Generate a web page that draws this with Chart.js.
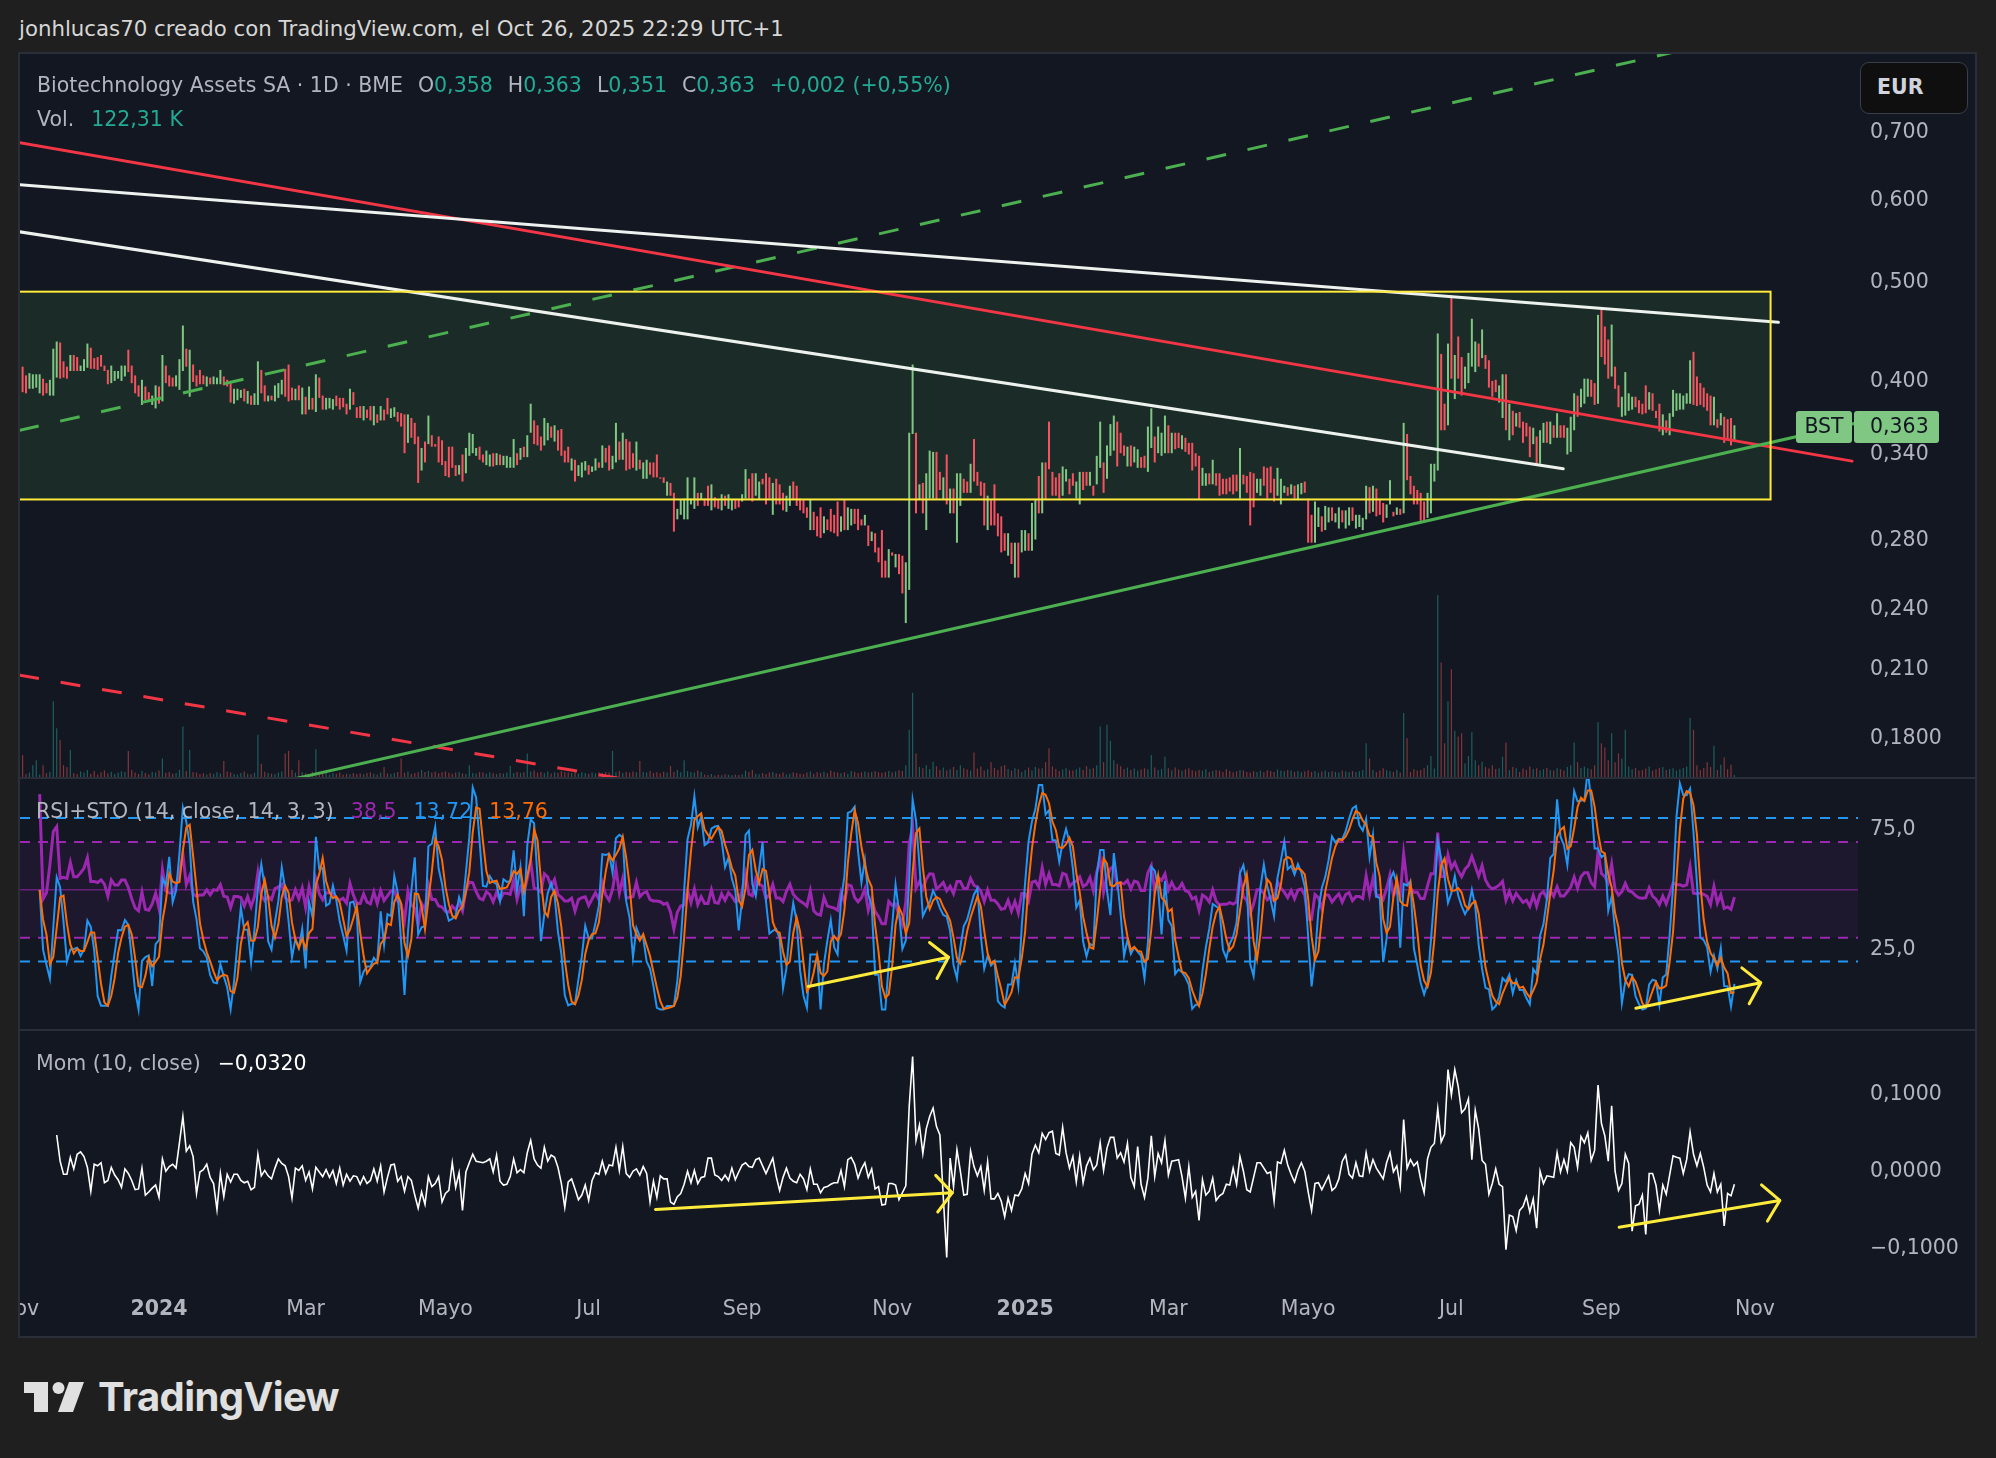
<!DOCTYPE html>
<html lang="es">
<head>
<meta charset="utf-8">
<title>Biotechnology Assets SA · 1D · BME</title>
<script src="https://cdn.jsdelivr.net/npm/chart.js@4.4.1/dist/chart.umd.min.js"></script>
<style>
html, body { margin: 0; padding: 0; }
body { width: 1996px; height: 1458px; background: #1f1f1f; position: relative; overflow: hidden;
       font-family: 'DejaVu Sans', sans-serif; font-size: 20.5px; }
#panel { position: absolute; left: 18px; top: 52px; width: 1959px; height: 1286px; box-sizing: border-box;
         border: 2px solid #2a2e39; background: #131722; }
canvas { position: absolute; left: 20px; }
.sep { position: absolute; left: 20px; width: 1955px; height: 2px; background: #2a2e39; }
.row { position: absolute; display: flex; white-space: pre; line-height: 24px; color: #b2b5be; }
.row .g { margin-left: 15px; }
.row .m { margin-left: 17px; }
.teal { color: #22ab94; }
#hdr { position: absolute; left: 19px; top: 17px; line-height: 24px; color: #d6d6d6; white-space: pre; font-size: 21.3px; }
#cur { position: absolute; left: 1860px; top: 62px; width: 108px; height: 52px; box-sizing: border-box;
       border: 1.5px solid #3a3e48; border-radius: 9px; background: #0f0f0f; color: #d1d4dc;
       font-weight: bold; line-height: 49px; padding-left: 16px; }
#brand { position: absolute; left: 98px; top: 1374px; font-family: Inter, sans-serif; font-weight: 700;
         font-size: 40px; line-height: 46px; color: #e0e0e0; letter-spacing: -0.6px; }
</style>
</head>
<body>
<div id="hdr">jonhlucas70 creado con TradingView.com, el Oct 26, 2025 22:29 UTC+1</div>
<div id="panel"></div>
<canvas id="priceCv" width="1955" height="723" style="top:54px"></canvas>
<div class="sep" style="top:777px"></div>
<canvas id="rsiCv" width="1955" height="250" style="top:779px"></canvas>
<div class="sep" style="top:1029px"></div>
<canvas id="momCv" width="1955" height="305" style="top:1031px"></canvas>

<div class="row" style="left:37px;top:73px"><span>Biotechnology Assets SA · 1D · BME</span><span class="g">O</span><span class="teal">0,358</span><span class="g">H</span><span class="teal">0,363</span><span class="g">L</span><span class="teal">0,351</span><span class="g">C</span><span class="teal">0,363</span><span class="g teal">+0,002 (+0,55%)</span></div>
<div class="row" style="left:37px;top:107px"><span>Vol.</span><span class="m teal">122,31 K</span></div>
<div id="cur">EUR</div>
<div class="row" style="left:36px;top:799px"><span>RSI+STO (14, close, 14, 3, 3)</span><span class="m" style="color:#9c27b0">38,5</span><span class="m" style="color:#2196f3">13,72</span><span class="m" style="color:#ff6d00">13,76</span></div>
<div class="row" style="left:36px;top:1051px"><span>Mom (10, close)</span><span class="m" style="color:#ffffff">−0,0320</span></div>

<svg style="position:absolute;left:0;top:1370px" width="100" height="50">
  <path d="M24 12 H48 V42 H34 V23 H24 Z" fill="#e0e0e0"/>
  <circle cx="58.5" cy="18" r="6" fill="#e0e0e0"/>
  <polygon points="69,12 84,12 73,42 58,42" fill="#e0e0e0"/>
</svg>
<div id="brand">TradingView</div>

<script>
// Biotechnology Assets SA (BME), daily bars, Nov 2 2023 - Oct 24 2025

// ---------- data ----------
const startDate = '2023-11-01';   // first session of the time axis, the first candle is the next session
const holidays = ['2023-12-25', '2023-12-26', '2024-01-01', '2024-03-29', '2024-04-01', '2024-05-01',
  '2024-12-24', '2024-12-25', '2024-12-26', '2024-12-31', '2025-01-01', '2025-04-18', '2025-04-21', '2025-05-01'];
const monthNames = ['Ene', 'Feb', 'Mar', 'Abr', 'Mayo', 'Jun', 'Jul', 'Ago', 'Sep', 'Oct', 'Nov', 'Dic'];
const labelMonths = [10, 0, 2, 4, 6, 8];

// daily high / low in thousandths of a euro
const highs = [
  414,406,408,407,407,407,403,399,402,431, 438,437,419,414,425,425,423,415,421,436,
  432,422,423,425,415,411,415,410,410,415, 415,430,415,406,397,402,396,391,388,397,
  396,425,415,406,404,406,421,454,431,430, 416,406,411,406,405,404,405,404,411,405,
  402,399,394,394,393,394,392,388,390,419, 411,397,388,388,397,399,402,412,416,395,
  394,397,395,387,396,386,407,404,388,386, 386,385,388,386,386,381,394,391,378,379,
  379,376,379,379,372,379,376,386,377,378, 374,373,372,372,369,365,354,345,350,371,
  355,348,354,351,335,346,346,332,332,340, 345,357,356,345,346,340,343,340,341,341,
  340,339,339,338,352,341,345,346,355,381, 367,363,354,369,365,362,363,359,360,343,
  346,337,336,332,334,335,332,331,337,334, 347,345,347,339,365,350,357,352,350,341,
  350,336,334,336,334,334,340,323,323,320, 319,312,301,307,308,323,308,323,312,312,
  308,317,318,309,307,311,310,311,307,307, 307,311,329,322,326,326,320,322,326,323,
  319,322,318,312,310,317,320,317,308,307, 302,307,299,296,302,296,294,301,297,306,
  296,307,302,301,301,301,294,297,290,286, 285,276,287,268,275,273,272,272,271,267,
  357,416,357,318,319,326,343,342,342,327, 323,340,315,315,326,326,322,320,333,352,
  327,320,319,310,307,318,298,296,285,285, 279,279,279,287,287,285,305,307,324,334,
  334,366,327,323,326,331,329,322,326,320, 327,327,327,327,317,339,366,334,347,364,
  371,366,357,347,346,347,346,344,338,339, 362,377,354,362,357,371,363,357,357,357,
  355,353,349,349,341,339,330,326,326,336, 326,326,322,322,323,325,325,345,325,324,
  327,326,322,322,331,330,331,322,330,322, 317,316,318,317,318,
  319,320,308,297,306,302,296,303,302,302, 298,302,300,300,302,302,297,297,295,317,
  316,317,315,307,305,304,321,299,302,301, 365,356,324,317,314,312,306,312,333,333,
  446,426,381,436,486,425,443,423,414,427, 461,438,436,450,425,420,401,402,397,407,
  407,381,375,373,374,366,365,362,361,354, 359,365,366,366,363,373,363,363,361,370,
  390,388,394,403,403,402,399,465,472,453, 440,455,414,397,387,409,390,387,387,384,
  381,397,391,390,375,381,372,367,373,393, 390,390,388,390,420,428,405,399,395,390,
  388,387,368,373,370,368,369,363
];
const lows = [
  391,390,394,394,395,390,388,390,388,388, 404,403,404,403,410,410,410,410,410,413,
  412,412,411,414,410,398,399,401,403,401, 405,409,399,390,387,380,384,383,380,377,
  381,383,399,396,396,396,393,410,414,387, 400,396,398,398,396,398,398,398,398,397,
  396,382,381,384,386,383,381,380,380,380, 390,383,383,384,383,386,389,387,383,384,
  384,384,372,372,376,376,374,386,376,376, 377,376,379,376,378,372,376,380,369,369,
  367,369,367,363,365,367,367,372,369,370, 366,362,341,349,353,348,319,328,334,348,
  346,346,334,332,324,323,330,324,325,320, 326,339,341,339,336,334,332,331,331,332,
  332,332,330,330,330,332,336,338,338,357, 348,347,343,347,351,353,350,343,339,334,
  334,328,320,324,323,328,325,327,328,330, 330,334,328,329,334,336,336,328,329,330,
  328,329,322,322,325,323,323,322,319,310, 310,286,294,297,294,294,304,301,303,307,
  303,303,300,302,301,300,303,301,300,301, 302,306,308,308,306,310,307,318,304,308,
  297,304,304,300,299,303,307,303,300,298, 295,287,287,283,282,285,287,286,285,283,
  286,287,287,290,291,287,290,290,277,280, 273,267,258,258,258,271,264,260,249,233,
  251,356,298,307,298,287,308,308,307,314, 307,304,298,298,279,303,312,312,312,320,
  317,310,290,287,290,290,283,273,274,271, 266,258,258,273,274,274,274,281,298,298,
  307,329,310,310,308,310,320,311,317,308, 304,314,317,317,310,318,330,312,322,339,
  343,331,341,339,331,331,334,330,330,330, 327,345,334,341,339,341,341,341,344,345,
  344,342,340,328,331,307,317,317,318,318, 317,310,311,311,313,311,313,308,318,312,
  290,302,312,310,317,308,312,306,310,304, 312,310,311,308,307,
  311,312,279,279,279,289,286,287,292,293, 292,288,292,288,290,293,288,289,287,294,
  298,299,296,297,292,295,304,296,297,297, 298,321,311,304,304,293,293,295,298,320,
  328,359,359,363,403,385,403,388,394,399, 414,409,414,422,412,395,387,391,382,369,
  359,351,355,362,361,349,354,338,348,333, 333,349,349,348,353,353,353,353,340,342,
  359,370,378,381,387,387,380,381,423,416, 403,405,394,378,370,371,375,376,378,373,
  372,373,376,375,369,358,355,357,355,370, 375,376,376,381,381,380,379,380,378,375,
  363,363,361,363,349,351,347,351
];
// candle colour (1 = green). At this zoom a candle is ~2px wide, so its body runs from end to end:
// a green candle opens at its low and closes at its high, a red one the other way round.
const upBar = [
  0,0,1,1,1,1,0,0,1,1, 1,0,0,0,1,0,0,1,1,1, 0,0,0,0,0,0,1,1,1,1, 1,0,0,0,0,1,0,0,1,1,
  0,1,0,0,0,1,1,1,0,1, 0,0,0,0,1,0,1,1,1,0, 0,0,1,1,1,0,1,0,1,1, 0,0,1,0,1,1,1,0,0,0,
  1,0,1,0,1,0,1,0,0,1, 1,1,0,0,0,0,1,0,0,0, 1,0,0,1,0,1,0,0,1,1, 0,0,0,1,0,0,0,1,0,1,
  0,0,0,0,0,0,0,0,1,0, 1,1,1,1,0,0,1,1,0,1, 0,1,1,1,1,0,1,0,1,1, 0,0,0,1,1,0,1,0,0,0,
  0,1,0,1,1,1,0,1,1,0, 1,0,0,1,1,0,1,0,0,0, 1,0,1,1,0,0,0,0,0,1, 0,0,1,1,1,1,1,1,0,1,
  0,0,1,0,0,1,0,1,1,0, 0,1,1,0,0,1,1,0,0,0, 1,0,0,0,1,1,0,0,0,0, 0,1,0,0,0,1,0,0,0,0,
  1,0,1,1,0,0,0,1,0,1, 0,0,0,0,1,0,1,0,0,1, 1,1,0,1,0,1,1,1,0,0, 1,0,1,0,1,1,0,0,1,0,
  0,0,0,1,0,0,0,0,0,1, 0,1,0,1,1,0,1,1,0,1, 0,0,0,0,0,1,1,0,0,1, 1,0,0,1,0,1,1,0,1,1,
  1,0,0,0,1,0,1,1,0,0, 1,1,0,1,1,1,0,1,0,0, 1,0,0,0,0,0,1,1,0,1, 0,0,0,0,0,0,0,1,0,0,
  0,0,1,1,0,0,0,0,1,1, 1,0,1,0,1,
  1,0,0,0,1,1,0,1,1,0, 1,1,0,1,1,0,1,1,1,1, 0,1,0,0,0,1,1,0,1,0, 1,0,0,0,0,0,0,1,1,1,
  1,0,0,1,0,1,0,0,1,1, 1,1,0,1,0,0,0,0,1,1, 0,1,0,1,0,0,0,0,1,0, 1,1,0,1,0,1,0,0,1,1,
  1,0,1,1,1,0,0,1,0,0, 0,1,0,0,1,1,1,1,0,0, 0,0,1,0,0,0,1,0,1,1, 1,1,1,1,1,0,0,0,0,0,
  0,1,0,1,0,0,0,1
];
// volume, thousands of shares
const volumeK = [
  1300,180,260,700,1000,150,700,220,310,4500, 2900,2200,700,600,1600,240,180,330,260,410,
  200,350,150,280,390,220,310,180,260,340, 290,1550,420,260,180,350,230,160,300,270,
  380,1100,250,300,190,240,420,3000,350,1600, 300,260,180,220,150,240,190,280,210,950,
  330,260,180,150,240,320,200,170,260,2500, 780,310,240,200,180,260,330,1400,1550,420,
  260,1000,300,220,180,310,1650,240,200,280, 150,230,190,260,140,200,170,240,180,210,
  160,230,280,190,150,260,600,210,180,240, 300,1100,260,320,200,240,280,420,300,350,
  260,310,220,280,330,250,190,260,300,220, 180,700,240,210,300,260,190,280,220,170,
  240,200,260,650,230,300,250,280,1400,320, 380,260,300,240,330,210,280,250,350,300,
  260,240,310,200,280,230,190,260,220,280, 240,300,260,1550,280,350,240,300,260,320,
  280,950,300,260,350,240,280,220,310,260, 650,300,420,280,1000,350,300,260,380,300,
  150,120,180,90,140,110,160,130,100,150, 120,170,380,300,420,200,160,240,180,260,
  300,220,180,260,150,200,280,240,200,170, 260,330,200,280,240,310,220,380,300,260,
  220,280,200,350,300,240,280,330,260,300, 340,280,250,300,360,280,330,400,350,700,
  2800,5000,1400,600,520,700,480,900,640,420, 560,380,460,600,420,700,520,440,380,1450,
  500,620,380,460,880,540,420,640,700,480, 380,520,460,300,420,560,380,600,500,520,
  880,1700,620,480,360,440,520,400,380,460, 560,420,640,480,520,700,3000,880,3100,2150,
  1000,780,640,480,560,420,500,380,440,520, 460,1300,560,420,480,1200,520,400,560,440,
  380,460,520,400,340,420,380,460,300,360, 420,380,300,460,360,280,340,420,380,300,
  260,340,300,380,280,400,360,300,440,380, 340,420,380,300,360,280,320,400,300,360,
  260,320,380,280,340,300,260,380,320,280, 360,300,340,420,2000,1100,420,300,380,520,
  400,340,300,420,260,3800,2300,300,460,380, 420,520,700,1250,500,10800,6800,2000,4500,6400,
  2750,2400,2600,800,1250,2650,1000,700,900,600, 500,700,480,520,1200,2050,400,600,520,300,
  500,420,620,480,520,380,460,540,420,380, 520,460,380,600,700,2050,880,540,620,520,
  460,700,3250,2000,1750,1000,2600,880,1400,1100, 2800,620,460,540,380,420,500,620,380,460,
  540,600,420,480,520,380,460,540,620,3500, 2800,700,420,540,880,600,1850,420,720,1150,
  460,720,122.31
];

const priceTicks = [0.18, 0.21, 0.24, 0.28, 0.34, 0.40, 0.50, 0.60, 0.70];
const priceTickLabels = ['0,1800', '0,210', '0,240', '0,280', '0,340', '0,400', '0,500', '0,600', '0,700'];
const rsiTicks = [25, 75];
const rsiTickLabels = ['25,0', '75,0'];
const momTicks = [-0.1, 0, 0.1];
const momTickLabels = ['\u22120,1000', '0,0000', '0,1000'];
const rsiBand = [30, 70];
const rsiMid = 50;
const stochBand = [20, 80];

// drawings on the chart, anchors as [session index, value]
const rangeBox = [[-30, 0.3074], [513.6, 0.4898]];
const redTrend = [[0, 0.684], [537.5, 0.335]];
const redDashed = [[0, 0.2073], [200, 0.1594]];
const greenDashed = [[0, 0.3588], [500, 0.860]];
const greenTrend = [[60, 0.1585], [540, 0.3657]];
const whiteUpper = [[0, 0.6226], [515.9, 0.4573]];
const whiteLower = [[0, 0.5602], [452.8, 0.3293]];
const rsiArrows = [[[231.4, 9.6], [272.5, 21.8]], [[474.1, 0.5], [510.7, 11.2]]];
const momArrows = [[[186.6, -0.0496], [273.6, -0.0281]], [[469.2, -0.0727], [516.3, -0.038]]];

// ---------- layout ----------
const X_MIN = 0.235, X_MAX = 539.24, AXIS_W = 117;
const FONT = 'DejaVu Sans';
const FONT_SIZE = 20.5;
const upCol = '#81c784', downCol = '#f7525f';

// trading sessions on the time axis
const sessions = [];
for (let d = new Date(startDate + 'T12:00:00Z'); sessions.length < 560; d.setUTCDate(d.getUTCDate() + 1)) {
  const s = d.toISOString().slice(0, 10), wd = d.getUTCDay();
  if (wd > 0 && wd < 6 && !holidays.includes(s)) sessions.push(s);
}
const timeTicks = [];
sessions.forEach((s, i) => {
  const m = +s.slice(5, 7) - 1;
  const newMonth = i === 0 || s.slice(5, 7) !== sessions[i - 1].slice(5, 7);
  if (newMonth && labelMonths.includes(m) && i <= X_MAX) {
    timeTicks.push({ i, label: m === 0 ? s.slice(0, 4) : monthNames[m], year: m === 0 });
  }
});

// ---------- indicators (standard formulas on the closes) ----------
const closes = highs.map((h, k) => (upBar[k] ? h : lows[k]) / 1000);

function rsiOf(src, len, warm) {
  const out = [null];
  let avgUp = 0, avgDn = 0;
  for (let t = 1; t < src.length; t++) {
    const ch = src[t] - src[t - 1];
    const n = Math.min(t, len);
    avgUp = (avgUp * (n - 1) + Math.max(ch, 0)) / n;
    avgDn = (avgDn * (n - 1) + Math.max(-ch, 0)) / n;
    out.push(t < warm ? null : (avgDn === 0 ? 100 : 100 - 100 / (1 + avgUp / avgDn)));
  }
  return out;
}
function stochOf(src, len) {
  return src.map((v, t) => {
    if (v === null) return null;
    const win = src.slice(Math.max(0, t - len + 1), t + 1).filter(x => x !== null);
    const lo = Math.min(...win), hi = Math.max(...win);
    return hi === lo ? 50 : (v - lo) / (hi - lo) * 100;
  });
}
function smaOf(src, len) {
  return src.map((v, t) => {
    if (v === null) return null;
    const win = src.slice(Math.max(0, t - len + 1), t + 1).filter(x => x !== null);
    return win.reduce((a, b) => a + b, 0) / win.length;
  });
}
const rsi = rsiOf(closes, 14, 5);
const stochK = smaOf(stochOf(rsi, 14), 3);
const stochD = smaOf(stochK, 3);
const mom = closes.map((c, t) => (t >= 10 ? c - closes[t - 10] : null));

// ---------- helpers ----------
const pts = arr => arr.map((v, k) => ({ x: k + 1, y: v }));
const toPx = (chart, p) => [chart.scales.x.getPixelForValue(p[0]), chart.scales.y.getPixelForValue(p[1])];

function clipArea(ctx, a) {
  ctx.beginPath();
  ctx.rect(a.left, a.top, a.right - a.left, a.bottom - a.top);
  ctx.clip();
}
function line(ctx, p, q, color, width, dash, cap) {
  ctx.save();
  ctx.strokeStyle = color;
  ctx.lineWidth = width;
  ctx.setLineDash(dash);
  ctx.lineCap = cap || 'round';
  ctx.beginPath();
  ctx.moveTo(p[0], p[1]);
  ctx.lineTo(q[0], q[1]);
  ctx.stroke();
  ctx.restore();
}
function arrow(ctx, p, q) {
  line(ctx, p, q, '#ffeb3b', 3, []);
  const ang = Math.atan2(q[1] - p[1], q[0] - p[0]), len = 24, spread = 0.87;
  ctx.save();
  ctx.strokeStyle = '#ffeb3b';
  ctx.lineWidth = 3;
  ctx.lineCap = 'round';
  ctx.lineJoin = 'round';
  ctx.beginPath();
  ctx.moveTo(q[0] + len * Math.cos(ang + Math.PI - spread), q[1] + len * Math.sin(ang + Math.PI - spread));
  ctx.lineTo(q[0], q[1]);
  ctx.lineTo(q[0] + len * Math.cos(ang + Math.PI + spread), q[1] + len * Math.sin(ang + Math.PI + spread));
  ctx.stroke();
  ctx.restore();
}

function xAxis() {
  return { type: 'linear', min: X_MIN, max: X_MAX, display: false, offset: false };
}
function rightAxis(min, max, ticks, labels, type) {
  return {
    type: type || 'linear', position: 'right', min, max,
    grid: { display: false, drawTicks: false },
    border: { display: false },
    ticks: {
      autoSkip: false, padding: 12, color: '#b2b5be',
      font: { family: FONT, size: FONT_SIZE },
      callback: (v, i) => labels[i]
    },
    afterBuildTicks: s => { s.ticks = ticks.map(v => ({ value: v })); },
    afterFit: s => { s.width = AXIS_W; s.paddingTop = 0; s.paddingBottom = 0; }
  };
}
function baseOptions(scales, padBottom) {
  return {
    responsive: false, animation: false, devicePixelRatio: 1,
    layout: { padding: { left: 0, right: 0, top: 0, bottom: padBottom || 0 } },
    plugins: { legend: { display: false }, tooltip: { enabled: false } },
    elements: { point: { radius: 0 }, line: { tension: 0 } },
    scales
  };
}

// ---------- price pane ----------
const mainDrawings = {
  id: 'mainDrawings',
  beforeDatasetsDraw(chart) {
    const { ctx, chartArea: a } = chart;
    const [x1, y1] = toPx(chart, [rangeBox[0][0], rangeBox[1][1]]);
    const [x2, y2] = toPx(chart, [rangeBox[1][0], rangeBox[0][1]]);
    ctx.save();
    clipArea(ctx, a);
    ctx.fillStyle = 'rgba(76,175,80,0.14)';
    ctx.fillRect(x1, y1, x2 - x1, y2 - y1);
    ctx.restore();
  },
  afterDatasetsDraw(chart) {
    const { ctx, chartArea: a } = chart;
    ctx.save();
    clipArea(ctx, a);
    const seg = (anchors, color, dash, cap) =>
      line(ctx, toPx(chart, anchors[0]), toPx(chart, anchors[1]), color, 3, dash, cap);
    seg(redDashed, '#f23645', [20, 22], 'butt');
    seg(greenDashed, '#4caf50', [20, 22], 'butt');
    seg(redTrend, '#f23645', []);
    seg(greenTrend, '#4caf50', []);
    seg(whiteLower, '#eef2ee', []);
    seg(whiteUpper, '#eef2ee', []);
    const [x1, y1] = toPx(chart, [rangeBox[0][0], rangeBox[1][1]]);
    const [x2, y2] = toPx(chart, [rangeBox[1][0], rangeBox[0][1]]);
    ctx.strokeStyle = '#ffeb3b';
    ctx.lineWidth = 2;
    ctx.strokeRect(x1, y1, x2 - x1, y2 - y1);
    ctx.restore();
  },
  afterDraw(chart) {
    // symbol label with last price on the price scale
    const { ctx, chartArea: a } = chart;
    const last = closes[closes.length - 1];
    const yy = Math.round(chart.scales.y.getPixelForValue(last)) + 2;
    ctx.save();
    ctx.fillStyle = upBar[upBar.length - 1] ? upCol : downCol;
    ctx.beginPath();
    ctx.roundRect(a.right - 62, yy - 16, 56, 32, 3);
    ctx.fill();
    ctx.beginPath();
    ctx.roundRect(a.right - 4, yy - 16, 85, 32, 3);
    ctx.fill();
    ctx.fillStyle = '#131722';
    ctx.font = `${FONT_SIZE}px "${FONT}"`;
    ctx.textBaseline = 'middle';
    ctx.textAlign = 'center';
    ctx.fillText('BST', a.right - 34, yy + 1);
    ctx.textAlign = 'left';
    ctx.fillText(last.toFixed(3).replace('.', ','), a.right + 12, yy + 1);
    ctx.restore();
  }
};

new Chart(document.getElementById('priceCv'), {
  type: 'bar',
  data: {
    datasets: [
      {
        label: 'Vol', yAxisID: 'yVol', order: 2, grouped: false, maxBarThickness: 1.2,
        data: volumeK.map((v, k) => ({ x: k + 1, y: v })),
        backgroundColor: upBar.map(u => (u ? 'rgba(38,166,154,0.5)' : 'rgba(239,83,80,0.5)'))
      },
      {
        label: 'BST', yAxisID: 'y', order: 1, grouped: false, maxBarThickness: 2, minBarLength: 1,
        data: highs.map((h, k) => ({ x: k + 1, y: [lows[k] / 1000, h / 1000] })),
        backgroundColor: upBar.map(u => (u ? upCol : downCol))
      }
    ]
  },
  options: baseOptions({
    x: xAxis(),
    y: rightAxis(0.165, 0.8345, priceTicks, priceTickLabels, 'logarithmic'),
    yVol: { type: 'linear', display: false, min: 0, max: 42900 }
  }),
  plugins: [mainDrawings]
});

// ---------- RSI + stochastic pane ----------
const rsiGuides = {
  id: 'rsiGuides',
  beforeDatasetsDraw(chart) {
    const { ctx, chartArea: a, scales: { y } } = chart;
    const yy = v => y.getPixelForValue(v);
    ctx.save();
    ctx.fillStyle = 'rgba(156,39,176,0.08)';
    ctx.fillRect(a.left, yy(rsiBand[1]), a.right - a.left, yy(rsiBand[0]) - yy(rsiBand[1]));
    line(ctx, [a.left, yy(rsiMid)], [a.right, yy(rsiMid)], 'rgba(156,39,176,0.6)', 1.5, [], 'butt');
    rsiBand.forEach(v => line(ctx, [a.left, yy(v)], [a.right, yy(v)], '#9c27b0', 2, [10, 8], 'butt'));
    stochBand.forEach(v => line(ctx, [a.left, yy(v)], [a.right, yy(v)], '#2196f3', 2, [10, 8], 'butt'));
    ctx.restore();
  },
  afterDatasetsDraw(chart) {
    rsiArrows.forEach(([p, q]) => arrow(chart.ctx, toPx(chart, p), toPx(chart, q)));
  }
};

new Chart(document.getElementById('rsiCv'), {
  type: 'line',
  data: {
    datasets: [
      { label: 'D', data: pts(stochD), borderColor: '#ff6d00', borderWidth: 2 },
      { label: 'K', data: pts(stochK), borderColor: '#2196f3', borderWidth: 2 },
      { label: 'RSI', data: pts(rsi), borderColor: '#9c27b0', borderWidth: 3 }
    ]
  },
  options: baseOptions({ x: xAxis(), y: rightAxis(-8.16, 96.31, rsiTicks, rsiTickLabels) }),
  plugins: [rsiGuides]
});

// ---------- momentum pane + time axis ----------
const momExtras = {
  id: 'momExtras',
  afterDatasetsDraw(chart) {
    momArrows.forEach(([p, q]) => arrow(chart.ctx, toPx(chart, p), toPx(chart, q)));
  },
  afterDraw(chart) {
    const { ctx, chartArea: a, scales: { x } } = chart;
    ctx.save();
    ctx.fillStyle = '#b2b5be';
    ctx.textAlign = 'center';
    ctx.textBaseline = 'middle';
    timeTicks.forEach(t => {
      ctx.font = `${t.year ? 'bold ' : ''}${FONT_SIZE}px "${FONT}"`;
      ctx.fillText(t.label, x.getPixelForValue(t.i), a.bottom + 22);
    });
    ctx.restore();
  }
};

new Chart(document.getElementById('momCv'), {
  type: 'line',
  data: {
    datasets: [{ label: 'Mom', data: pts(mom), borderColor: '#ffffff', borderWidth: 1.6, spanGaps: true }]
  },
  options: baseOptions({ x: xAxis(), y: rightAxis(-0.1517, 0.1821, momTicks, momTickLabels) }, 48),
  plugins: [momExtras]
});
</script>
</body>
</html>
